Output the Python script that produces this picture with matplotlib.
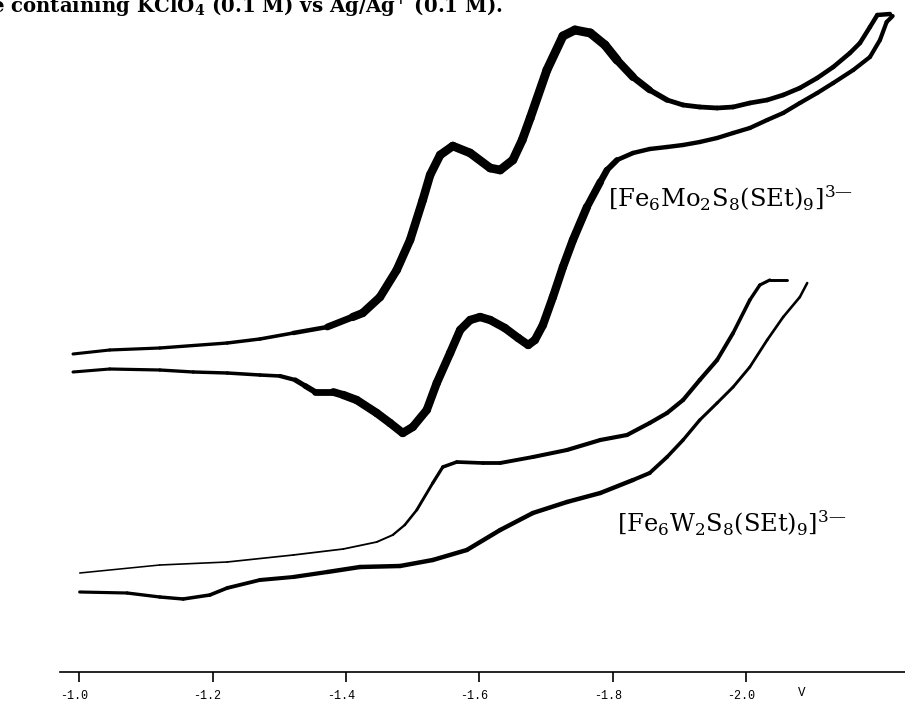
import numpy as np
import matplotlib.pyplot as plt
from matplotlib.collections import LineCollection
from matplotlib.transforms import ScaledTranslation

plt.rcParams['font.family'] = ['DejaVu Serif']
plt.rcParams['mathtext.fontset'] = 'custom'
plt.rcParams['mathtext.rm'] = 'DejaVu Serif'
plt.rcParams['mathtext.it'] = 'DejaVu Serif:italic'
plt.rcParams['mathtext.bf'] = 'DejaVu Serif:bold'
plt.rcParams['axes.unicode_minus'] = False

# potential (V vs Ag/Ag+) and current (arbitrary units)
# [Fe6Mo2S8(SEt)9]3- : cathodic sweep (upper trace)
mo_fwd_v = [-0.991, -1.046, -1.121, -1.222, -1.271, -1.321, -1.372, -1.410, -1.425, -1.451,
            -1.476, -1.496, -1.515, -1.526, -1.541, -1.560, -1.586, -1.616, -1.631, -1.650,
            -1.664, -1.676, -1.701, -1.725, -1.743, -1.766, -1.788, -1.806, -1.830, -1.855,
            -1.881, -1.905, -1.930, -1.956, -1.980, -2.005, -2.031, -2.055, -2.080, -2.106,
            -2.130, -2.155, -2.170, -2.185, -2.196, -2.215]
mo_fwd_i = [30.6, 31.0, 31.2, 31.7, 32.1, 32.7, 33.3, 34.3, 34.7, 36.3,
            39.0, 42.0, 46.0, 48.5, 50.5, 51.4, 50.7, 49.2, 49.0, 50.0,
            52.0, 54.2, 59.0, 62.4, 63.0, 62.7, 61.5, 60.0, 58.3, 57.0,
            56.0, 55.5, 55.3, 55.2, 55.3, 55.7, 56.0, 56.5, 57.2, 58.2,
            59.3, 60.7, 61.7, 63.3, 64.5, 64.6]
# [Fe6Mo2S8(SEt)9]3- : return sweep (lower trace)
mo_rev_v = [-2.219, -2.210, -2.200, -2.185, -2.160, -2.130, -2.106, -2.080, -2.055, -2.031,
            -2.005, -1.980, -1.956, -1.930, -1.905, -1.881, -1.855, -1.830, -1.806, -1.791,
            -1.781, -1.761, -1.740, -1.725, -1.710, -1.695, -1.683, -1.673, -1.658, -1.638,
            -1.616, -1.601, -1.586, -1.571, -1.556, -1.536, -1.521, -1.500, -1.485, -1.466,
            -1.446, -1.416, -1.396, -1.381, -1.354, -1.339, -1.324, -1.301, -1.271, -1.222,
            -1.171, -1.121, -1.046, -0.991]
mo_rev_i = [64.4, 63.8, 62.0, 60.3, 59.0, 57.7, 56.7, 55.7, 54.7, 54.0,
            53.2, 52.7, 52.2, 51.8, 51.5, 51.3, 51.1, 50.7, 50.0, 49.0,
            47.8, 45.3, 42.0, 39.3, 36.3, 33.5, 32.0, 31.5, 32.2, 33.2,
            34.0, 34.3, 34.0, 33.0, 30.7, 27.7, 25.0, 23.3, 22.7, 23.7,
            24.7, 26.0, 26.5, 26.8, 26.8, 27.4, 28.0, 28.4, 28.5, 28.7,
            28.8, 29.0, 29.1, 28.8]

# [Fe6W2S8(SEt)9]3- : cathodic sweep (upper trace)
w_fwd_v = [-1.001, -1.121, -1.222, -1.321, -1.396, -1.446, -1.470, -1.488, -1.506, -1.530,
           -1.545, -1.566, -1.605, -1.631, -1.680, -1.731, -1.781, -1.821, -1.855, -1.881,
           -1.905, -1.930, -1.956, -1.980, -2.005, -2.020, -2.035, -2.061]
w_fwd_i = [8.7, 9.5, 9.8, 10.5, 11.1, 11.8, 12.5, 13.5, 15.0, 17.7,
           19.3, 19.8, 19.7, 19.7, 20.3, 21.0, 22.0, 22.5, 23.7, 24.7,
           26.0, 28.0, 30.0, 32.7, 36.0, 37.5, 38.0, 38.0]
# [Fe6W2S8(SEt)9]3- : return sweep (lower trace)
w_rev_v = [-2.091, -2.080, -2.055, -2.031, -2.005, -1.980, -1.956, -1.930, -1.905, -1.881,
           -1.855, -1.830, -1.781, -1.731, -1.680, -1.631, -1.581, -1.530, -1.481, -1.421,
           -1.372, -1.321, -1.271, -1.222, -1.196, -1.156, -1.121, -1.072, -1.001]
w_rev_i = [37.7, 36.3, 34.3, 32.0, 29.3, 27.3, 25.7, 24.0, 22.0, 20.3,
           18.7, 18.0, 16.7, 15.8, 14.7, 13.0, 11.0, 10.0, 9.4, 9.3,
           8.8, 8.3, 8.0, 7.2, 6.5, 6.1, 6.3, 6.7, 6.8]

ticks = [-1.0, -1.2, -1.4, -1.6, -1.8, -2.0]
tick_labels = ['-1.0', '-1.2', '-1.4', '-1.6', '-1.8', '-2.0']

fig = plt.figure(figsize=(9.05, 7.02), dpi=100)
ax = fig.add_axes([0, 0, 1, 1])
ax.set_xlim(-0.8816, -2.2375)
ax.set_ylim(-4.2, 66)


def trace(v, i, prof_v, prof_w):
    # pen width of the recorder trace changes along the sweep
    v = np.asarray(v)
    pts = np.column_stack([v, i])
    segs = np.stack([pts[:-1], pts[1:]], axis=1)
    mid = (v[:-1] + v[1:]) / 2
    lw = np.interp(-mid, -np.asarray(prof_v), prof_w)
    lc = LineCollection(segs, linewidths=lw, colors='black',
                        capstyle='round', joinstyle='round')
    ax.add_collection(lc)


trace(mo_fwd_v, mo_fwd_i, [-1.0, -1.33, -1.42, -1.80, -1.88, -2.2], [2.2, 2.6, 6.0, 6.5, 3.5, 3.2])
trace(mo_rev_v, mo_rev_i, [-1.0, -1.30, -1.40, -1.76, -1.82, -2.2], [2.2, 2.6, 6.0, 6.0, 3.2, 3.0])
trace(w_fwd_v, w_fwd_i, [-1.0, -1.45, -1.56, -1.75, -1.95, -2.06], [1.1, 1.3, 2.6, 3.0, 3.0, 2.0])
trace(w_rev_v, w_rev_i, [-1.0, -1.20, -1.40, -1.80, -1.95, -2.09], [2.2, 2.6, 3.2, 3.2, 2.2, 1.8])

# potential axis
for s in ['top', 'right', 'left']:
    ax.spines[s].set_visible(False)
ax.spines['bottom'].set_position(('data', -1.2))
ax.spines['bottom'].set_bounds(-0.9715, -2.2375)
ax.spines['bottom'].set_linewidth(1.2)
ax.set_yticks([])
ax.set_xticks(ticks)
ax.set_xticklabels(tick_labels, family='Liberation Mono', fontsize=8.5)
ax.tick_params(axis='x', direction='out', length=7, width=1.2, pad=6)
for lbl in ax.get_xticklabels():
    lbl.set_transform(lbl.get_transform() + ScaledTranslation(-0.05, 0, fig.dpi_scale_trans))
ax.text(-2.083, -3.3, 'V', family='Liberation Mono', fontsize=9, ha='center', va='center')

mo_lbl = ax.text(-1.7925, 45.3, '[Fe$_6$Mo$_2$S$_8$(SEt)$_9$]$^{3\u2014}$', fontsize=16, va='baseline')
w_lbl = ax.text(-1.806, 12.8, '[Fe$_6$W$_2$S$_8$(SEt)$_9$]$^{3\u2014}$', fontsize=16, va='baseline')

caption = fig.text(503 / 905, 1 - 13 / 702,
                   r'e containing KClO$_\mathbf{4}$ (0.1 M) vs Ag/Ag$^\mathbf{+}$ (0.1 M).',
                   fontsize=14, fontweight='bold', ha='right', va='baseline')

# scale the scanned labels to their measured widths in the picture
fig.canvas.draw()
renderer = fig.canvas.get_renderer()
for t, target in [(mo_lbl, 245), (w_lbl, 230), (caption, 515)]:
    w = t.get_window_extent(renderer).width
    t.set_fontsize(t.get_fontsize() * target / w)

fig.savefig('out.png', dpi=100)
